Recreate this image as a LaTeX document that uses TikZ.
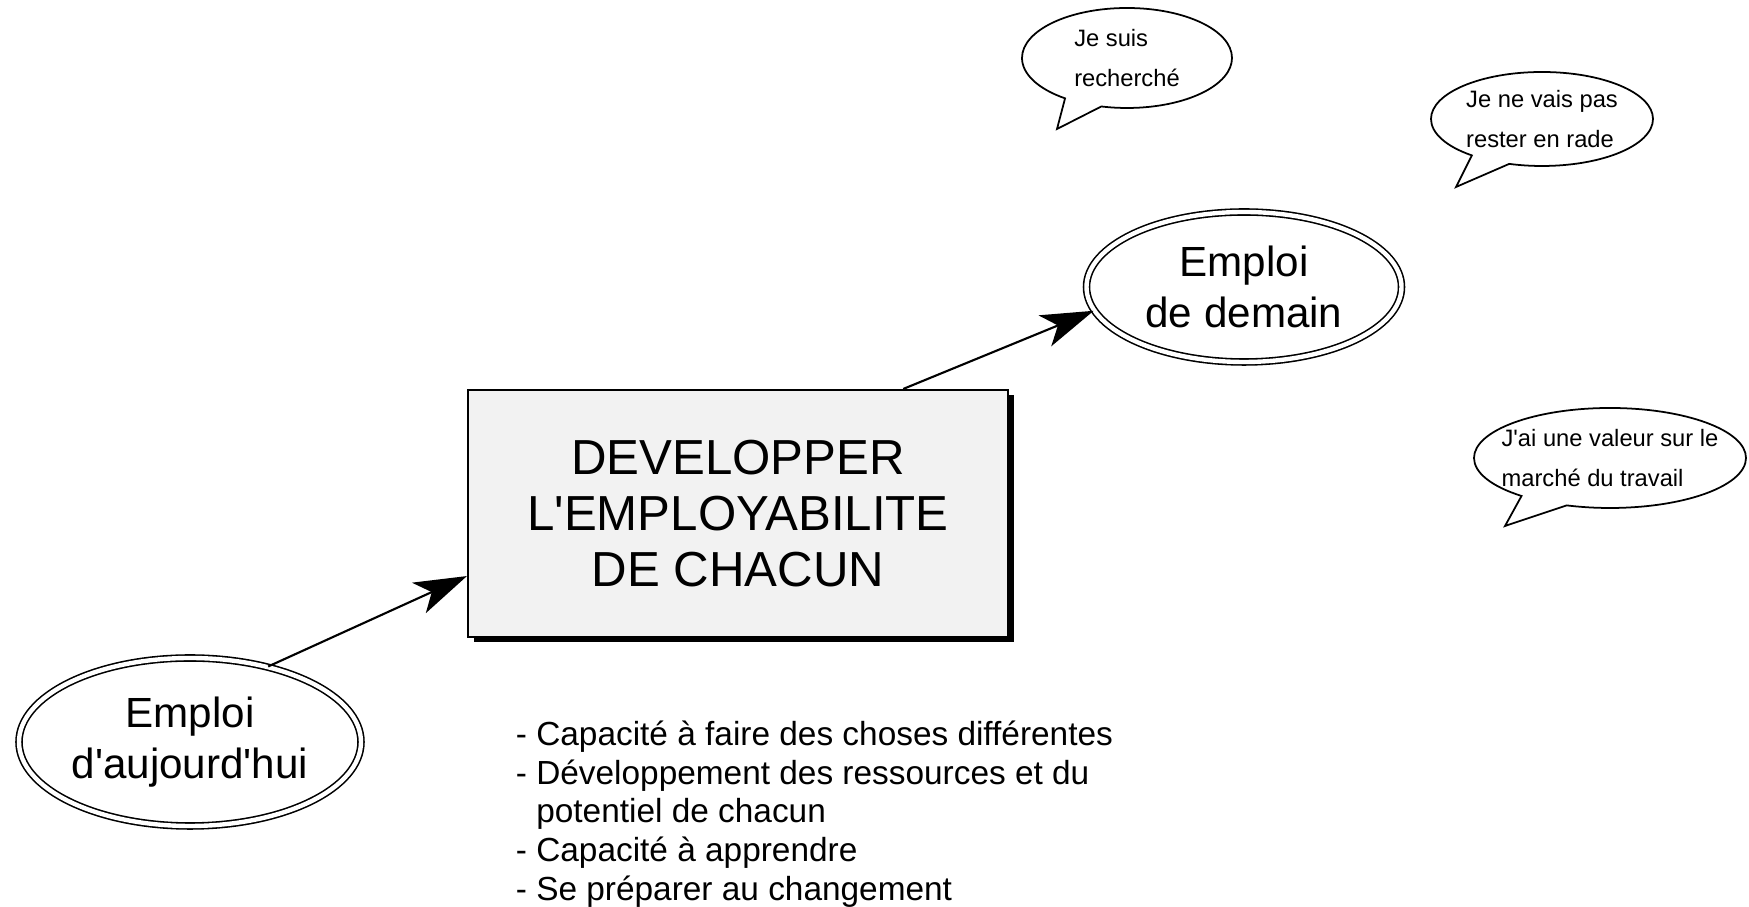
\documentclass[tikz,border=0pt]{standalone}
\usepackage{fontspec}
\setmainfont{Liberation Sans}
\usetikzlibrary{shapes.geometric,shapes.callouts,arrows.meta,shadows}

\begin{document}
\begin{tikzpicture}[line width=1.2pt,
    emploi/.style={ellipse,draw,double,double distance=2.5pt,line width=0.9pt,
      font=\fontsize{24}{29}\selectfont,align=center,inner sep=0pt},
    bulle/.style={ellipse callout,draw,line width=1pt,inner sep=-1em,
      callout pointer arc=22,font=\fontsize{13.5}{22.5}\selectfont,align=left},
    fleche/.style={-{Stealth[length=30pt,width=19pt,inset=8pt]}}]
    \useasboundingbox (0,0) rectangle (34.98,18.14);
    \node[draw,fill=gray!10,minimum width=10.8cm,minimum height=4.94cm,
          drop shadow={shadow xshift=0.11cm,shadow yshift=-0.11cm,fill=black,opacity=1},
          font=\fontsize{28}{32}\selectfont,align=center] (box) at (14.76,7.87)
          {DEVELOPPER\\L\textquotesingle EMPLOYABILITE\\DE CHACUN};
    \node[emploi,minimum width=6.84cm,minimum height=3.36cm] (auj) at (3.80,3.30)
          {Emploi\\d\textquotesingle aujourd\textquotesingle hui};
    \node[emploi,minimum width=6.3cm,minimum height=3cm] (dem) at (24.88,12.40)
          {Emploi\\de demain};
    \draw[fleche] (auj.44) -- (box.193);
    \draw[fleche] (box.37) -- (dem.189);
    \node[anchor=north west,align=left,font=\fontsize{19}{22}\selectfont] (liste)
          at (10.18,3.86)
          {- Capacité à faire des choses différentes\\
           - Développement des ressources et du\\
           \hphantom{- }potentiel de chacun\\
           - Capacité à apprendre\\
           - Se préparer au changement};
    \coordinate (p1) at (21.14,15.56);
    \coordinate (p2) at (29.12,14.40);
    \coordinate (p3) at (30.10,7.62);
    \node[bulle,minimum width=4.2cm,minimum height=2cm,
          callout absolute pointer={(p1)}] (b1) at (22.54,16.98) {Je suis\\recherché};
    \node[bulle,minimum width=4.44cm,minimum height=1.88cm,
          callout absolute pointer={(p2)}] (b2) at (30.84,15.76) {Je ne vais pas\\rester en rade};
    \node[bulle,minimum width=5.44cm,minimum height=2cm,
          callout absolute pointer={(p3)}] (b3) at (32.20,8.98) {J\textquotesingle ai une valeur sur le\\marché du travail};
\end{tikzpicture}
\end{document}
